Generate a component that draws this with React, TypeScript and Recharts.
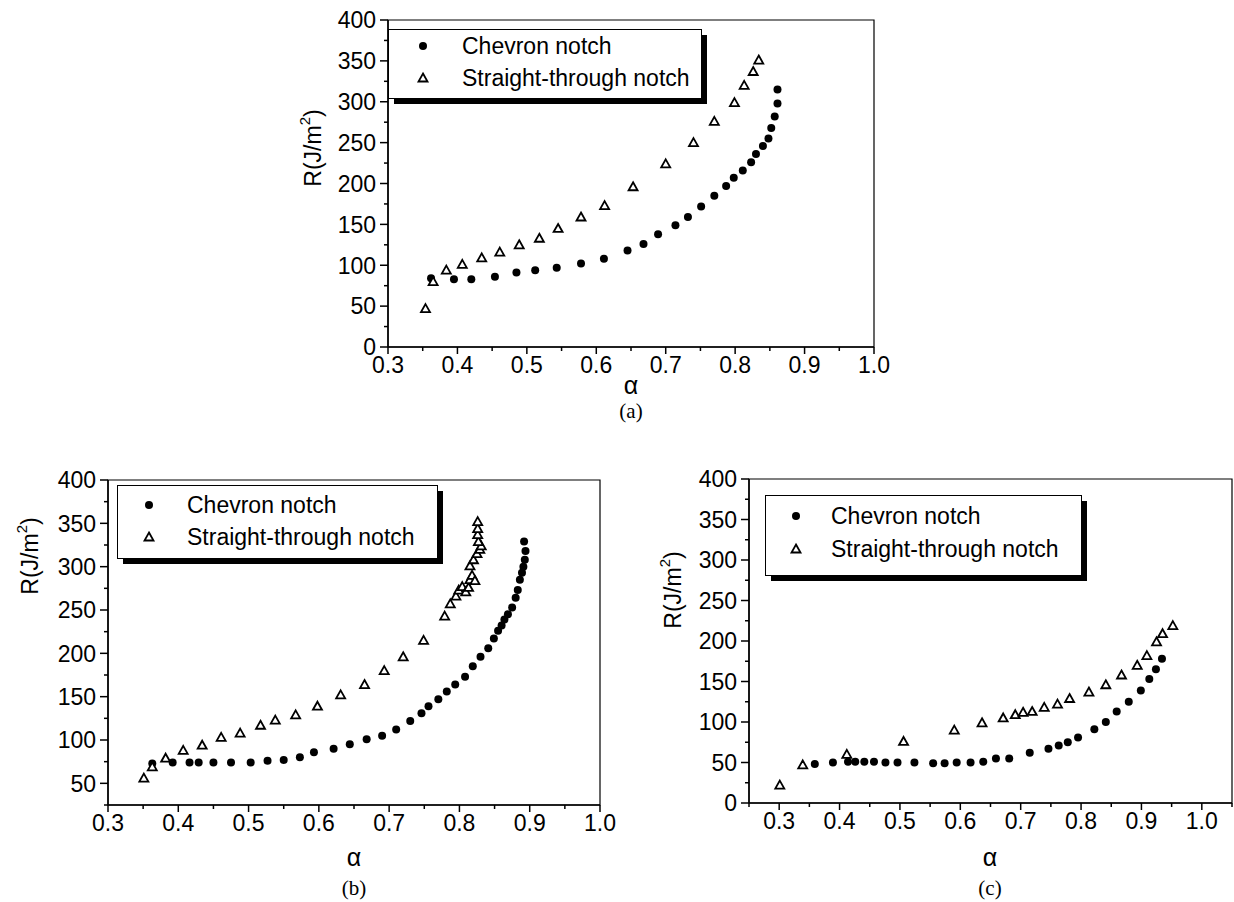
import React from 'react';
import { ScatterChart, Scatter, XAxis, YAxis, Legend, ReferenceArea } from 'recharts';

const FONT = '"Liberation Sans", Arial, sans-serif';
const seriesNames = ['Chevron notch', 'Straight-through notch'];

// panel (a)
const chevronAlphaA = [0.362, 0.395, 0.42, 0.454, 0.485, 0.512, 0.543, 0.578, 0.611, 0.645, 0.668, 0.689, 0.714, 0.732, 0.751, 0.77, 0.787, 0.798, 0.811, 0.823, 0.83, 0.84, 0.848, 0.852, 0.857, 0.861, 0.861];
const chevronRA = [84, 83, 83, 86, 91, 94, 97, 102, 108, 118, 126, 138, 149, 159, 172, 185, 197, 207, 216, 226, 236, 246, 255, 268, 282, 298, 315];
const straightAlphaA = [0.354, 0.365, 0.384, 0.407, 0.435, 0.461, 0.489, 0.518, 0.545, 0.578, 0.612, 0.653, 0.7, 0.74, 0.77, 0.799, 0.813, 0.826, 0.834];
const straightRA = [47, 80, 94, 101, 109, 116, 125, 133, 145, 159, 173, 196, 224, 250, 276, 299, 320, 337, 351];

// panel (b)
const chevronAlphaB = [0.363, 0.392, 0.416, 0.429, 0.45, 0.475, 0.503, 0.527, 0.55, 0.573, 0.593, 0.621, 0.644, 0.668, 0.69, 0.71, 0.73, 0.746, 0.756, 0.77, 0.782, 0.794, 0.808, 0.819, 0.83, 0.841, 0.849, 0.855, 0.86, 0.864, 0.869, 0.875, 0.88, 0.883, 0.886, 0.889, 0.891, 0.893, 0.894, 0.892];
const chevronRB = [73, 74, 74, 74, 74, 74, 74, 76, 77, 80, 86, 90, 95, 101, 105, 112, 122, 131, 139, 147, 156, 164, 173, 185, 196, 206, 217, 226, 232, 239, 245, 253, 264, 273, 285, 293, 300, 308, 318, 329];
const straightAlphaB = [0.351, 0.363, 0.382, 0.407, 0.434, 0.461, 0.488, 0.517, 0.538, 0.567, 0.598, 0.631, 0.665, 0.693, 0.72, 0.749, 0.779, 0.787, 0.795, 0.799, 0.804, 0.809, 0.813, 0.815, 0.818, 0.822, 0.815, 0.82, 0.825, 0.829, 0.831, 0.827, 0.826, 0.826, 0.826];
const straightRB = [56, 69, 79, 88, 94, 103, 108, 117, 123, 129, 139, 152, 164, 180, 196, 215, 243, 257, 266, 273, 277, 271, 276, 285, 290, 284, 301, 308, 315, 320, 324, 329, 337, 344, 352];

// panel (c)
const chevronAlphaC = [0.359, 0.389, 0.414, 0.426, 0.441, 0.457, 0.476, 0.496, 0.524, 0.555, 0.574, 0.594, 0.617, 0.638, 0.659, 0.681, 0.715, 0.746, 0.763, 0.778, 0.795, 0.822, 0.841, 0.859, 0.879, 0.899, 0.913, 0.924, 0.934];
const chevronRC = [48, 50, 51, 51, 51, 51, 50, 50, 50, 49, 49, 50, 50, 51, 55, 55, 62, 67, 71, 75, 81, 91, 100, 113, 125, 139, 153, 165, 178];
const straightAlphaC = [0.301, 0.339, 0.412, 0.506, 0.59, 0.636, 0.671, 0.691, 0.704, 0.719, 0.739, 0.761, 0.781, 0.813, 0.841, 0.867, 0.893, 0.909, 0.925, 0.935, 0.952];
const straightRC = [22, 47, 60, 76, 90, 99, 105, 109, 112, 113, 118, 122, 129, 137, 146, 158, 170, 182, 199, 209, 219];

// ticks (major + minor)
const xTicksAB = [0.3, 0.35, 0.4, 0.45, 0.5, 0.55, 0.6, 0.65, 0.7, 0.75, 0.8, 0.85, 0.9, 0.95, 1.0];
const xTicksC = [0.25, 0.3, 0.35, 0.4, 0.45, 0.5, 0.55, 0.6, 0.65, 0.7, 0.75, 0.8, 0.85, 0.9, 0.95, 1.0, 1.05];
const yTicksAC = [0, 25, 50, 75, 100, 125, 150, 175, 200, 225, 250, 275, 300, 325, 350, 375, 400];
const yTicksB = [25, 50, 75, 100, 125, 150, 175, 200, 225, 250, 275, 300, 325, 350, 375, 400];

const zip = (a: number[], r: number[]) => a.map((v, i) => ({ a: v, r: r[i] }));

const XTick = (props: any) => {
  const { x, y, payload } = props;
  const v = payload.value;
  const major = Math.abs(v * 10 - Math.round(v * 10)) < 1e-6;
  return (
    <g>
      <line x1={x} y1={y} x2={x} y2={y + (major ? 7 : 4)} stroke="#000" strokeWidth={1.5} />
      {major && (
        <text x={x} y={y + 10} dy="0.71em" textAnchor="middle" fontSize={23} fontFamily={FONT} fill="#000">
          {v.toFixed(1)}
        </text>
      )}
    </g>
  );
};

const YTick = (props: any) => {
  const { x, y, payload } = props;
  const v = payload.value;
  const major = v % 50 === 0;
  return (
    <g>
      <line x1={x - (major ? 8 : 4)} y1={y} x2={x} y2={y} stroke="#000" strokeWidth={1.5} />
      {major && (
        <text x={x - 12} y={y} dy="0.36em" textAnchor="end" fontSize={23} fontFamily={FONT} fill="#000">
          {v}
        </text>
      )}
    </g>
  );
};

const Circle = (props: any) => <circle cx={props.cx} cy={props.cy} r={4} fill="#000" />;
const Tri = (props: any) => (
  <path
    d={`M${props.cx},${props.cy - 4.5}L${props.cx + 4.5},${props.cy + 3.5}L${props.cx - 4.5},${props.cy + 3.5}Z`}
    fill="#fff"
    stroke="#000"
    strokeWidth={1.8}
  />
);

const LegendBox = ({ w, h, mx, tx, b1, b2 }: any) => (
  <svg width={w + 8} height={h + 8} style={{ display: 'block' }}>
    <rect x={6} y={6} width={w} height={h} fill="#000" />
    <rect x={0.5} y={0.5} width={w} height={h} fill="#fff" stroke="#000" strokeWidth={1} />
    <circle cx={mx} cy={b1 - 8} r={4} fill="#000" />
    <path d={`M${mx},${b2 - 12.5}L${mx + 4.5},${b2 - 4.5}L${mx - 4.5},${b2 - 4.5}Z`} fill="#fff" stroke="#000" strokeWidth={1.8} />
    <text x={tx} y={b1} fontSize={23} fontFamily={FONT} fill="#000">{seriesNames[0]}</text>
    <text x={tx} y={b2} fontSize={23} fontFamily={FONT} fill="#000">{seriesNames[1]}</text>
  </svg>
);

const Panel = ({ chevron, straight, xDomain, yDomain, xTicks, yTicks, plot, legend, yLabel, xLabel, caption }: any) => {
  const yAxisW = 60;
  const xAxisH = 30;
  return (
    <div style={{ position: 'absolute', left: 0, top: 0 }}>
      <ScatterChart
        width={1234}
        height={902}
        margin={{ top: plot.y0, left: plot.x0 - yAxisW, right: 1234 - plot.x1, bottom: 902 - plot.y1 - xAxisH }}
      >
        <ReferenceArea x1={xDomain[0]} x2={xDomain[1]} y1={yDomain[0]} y2={yDomain[1]} fill="none" stroke="#000" strokeWidth={1.2} />
        <XAxis
          type="number"
          dataKey="a"
          domain={xDomain}
          ticks={xTicks}
          interval={0}
          allowDataOverflow
          height={xAxisH}
          tickSize={0}
          tickMargin={0}
          tickLine={false}
          axisLine={{ stroke: '#000', strokeWidth: 1.5 }}
          tick={(p: any) => <XTick {...p} />}
          label={() => (
            <g>
              <text x={xLabel.x} y={xLabel.y} textAnchor="middle" dominantBaseline="central" fontSize={25} fontFamily={FONT} fill="#000">α</text>
              <text x={caption.x} y={caption.y} textAnchor="middle" dominantBaseline="central" fontSize={21} fontFamily='"Liberation Serif", "Times New Roman", serif' fill="#000">{caption.text}</text>
            </g>
          )}
        />
        <YAxis
          type="number"
          dataKey="r"
          domain={yDomain}
          ticks={yTicks}
          interval={0}
          allowDataOverflow
          width={yAxisW}
          tickSize={0}
          tickMargin={0}
          tickLine={false}
          axisLine={{ stroke: '#000', strokeWidth: 1.5 }}
          tick={(p: any) => <YTick {...p} />}
          label={() => (
            <text
              x={yLabel.x}
              y={yLabel.y}
              transform={`rotate(-90, ${yLabel.x}, ${yLabel.y})`}
              textAnchor="middle"
              dominantBaseline="central"
              fontSize={23}
              fontFamily={FONT}
              fill="#000"
            >
              R(J/m<tspan dy={-9} fontSize={15}>2</tspan><tspan dy={9}>)</tspan>
            </text>
          )}
        />
        <Legend
          layout="horizontal"
          verticalAlign="middle"
          align="center"
          wrapperStyle={{ left: legend.x, top: legend.y, width: legend.w + 8, height: legend.h + 8 }}
          content={() => <LegendBox {...legend} />}
        />
        <Scatter name={seriesNames[0]} data={chevron} shape={Circle} isAnimationActive={false} />
        <Scatter name={seriesNames[1]} data={straight} shape={Tri} isAnimationActive={false} />
      </ScatterChart>
    </div>
  );
};

export default function App() {
  return (
    <div style={{ position: 'absolute', left: 0, top: 0, width: 1234, height: 902, background: '#fff' }}>
      <Panel
        chevron={zip(chevronAlphaA, chevronRA)}
        straight={zip(straightAlphaA, straightRA)}
        xDomain={[0.3, 1.0]}
        yDomain={[0, 400]}
        xTicks={xTicksAB}
        yTicks={yTicksAC}
        plot={{ x0: 388, y0: 20, x1: 874, y1: 347 }}
        legend={{ x: 388, y: 29, w: 313, h: 69, mx: 35, tx: 74, b1: 25, b2: 57 }}
        yLabel={{ x: 313, y: 148 }}
        xLabel={{ x: 631, y: 385 }}
        caption={{ x: 631, y: 411, text: '(a)' }}
      />
      <Panel
        chevron={zip(chevronAlphaB, chevronRB)}
        straight={zip(straightAlphaB, straightRB)}
        xDomain={[0.3, 1.0]}
        yDomain={[25, 400]}
        xTicks={xTicksAB}
        yTicks={yTicksB}
        plot={{ x0: 108, y0: 480, x1: 600, y1: 805 }}
        legend={{ x: 117, y: 485, w: 320, h: 73, mx: 32, tx: 70, b1: 28, b2: 60 }}
        yLabel={{ x: 30, y: 556 }}
        xLabel={{ x: 354, y: 857 }}
        caption={{ x: 354, y: 888, text: '(b)' }}
      />
      <Panel
        chevron={zip(chevronAlphaC, chevronRC)}
        straight={zip(straightAlphaC, straightRC)}
        xDomain={[0.25, 1.05]}
        yDomain={[0, 400]}
        xTicks={xTicksC}
        yTicks={yTicksAC}
        plot={{ x0: 749, y0: 479, x1: 1232, y1: 803 }}
        legend={{ x: 765, y: 495, w: 316, h: 80, mx: 31, tx: 66, b1: 29, b2: 62 }}
        yLabel={{ x: 673, y: 590 }}
        xLabel={{ x: 990, y: 857 }}
        caption={{ x: 990, y: 888, text: '(c)' }}
      />
    </div>
  );
}
